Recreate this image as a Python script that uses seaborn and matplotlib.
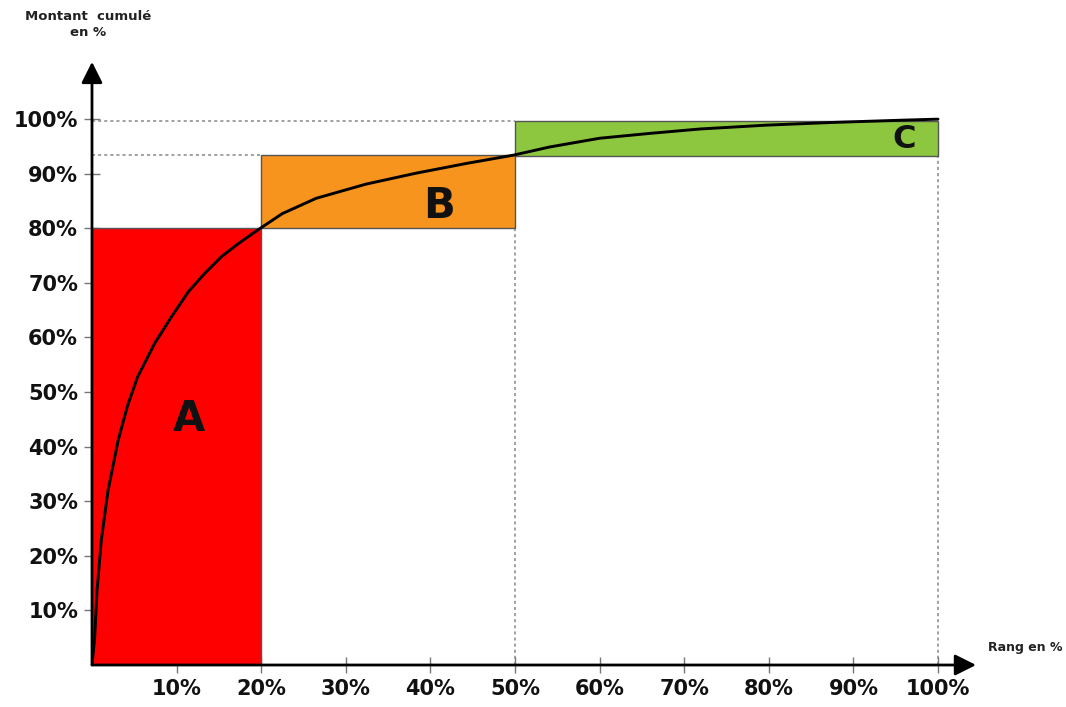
import numpy as np
import pandas as pd
import seaborn as sns
import matplotlib.pyplot as plt
from matplotlib.ticker import FuncFormatter

# zones ABC : rang (x) et montant cumule (y) en %
zones = ['A', 'B', 'C']
zone_start = [0, 20, 50]
zone_end = [20, 50, 100]
zone_low = [0, 80, 93.3]
zone_high = [80, 93.4, 99.7]
zone_colors = ['#ff0000', '#f7941d', '#8dc63f']

# courbe cumulée
rank_pct = [0, 0.3, 0.6, 1.1, 1.9, 3.1, 4.2, 5.4, 7.4, 9.4, 11.4, 13.3, 15.3,
            17.3, 19.6, 22.5, 26.5, 32.4, 38.3, 44.3, 49.8, 54.1, 60.0, 66.0,
            71.9, 79.7, 87.6, 95.5, 100]
cum_pct = [0, 4.6, 13.7, 22.9, 32.0, 41.2, 47.5, 52.8, 58.9, 63.8, 68.4, 71.7, 74.8,
           77.2, 79.7, 82.7, 85.5, 88.1, 90.1, 91.9, 93.4, 94.9, 96.5, 97.4,
           98.2, 98.9, 99.4, 99.8, 100]

ticks = [10, 20, 30, 40, 50, 60, 70, 80, 90, 100]

sns.set_style('white')
plt.rcParams['font.family'] = ['DejaVu Sans']

fig = plt.figure(figsize=(10.66, 7.07), dpi=100)
ax = fig.add_axes([0.0863, 0.0594, 0.8333, 0.857])

df = pd.DataFrame({'rang': rank_pct, 'cumul': cum_pct})

# rectangles des zones
for i in range(len(zones)):
    ax.bar(zone_start[i], zone_high[i] - zone_low[i], width=zone_end[i] - zone_start[i],
           bottom=zone_low[i], align='edge', color=zone_colors[i],
           edgecolor='#555555', linewidth=1, zorder=2)

# pointillés
dot = dict(color='#888888', lw=1.1, ls=(0, (2, 2)), zorder=1)
ax.plot([0, zone_start[2]], [zone_high[2], zone_high[2]], **dot)
ax.plot([0, zone_start[1]], [zone_high[1], zone_high[1]], **dot)
ax.plot([zone_end[1], zone_end[1]], [0, zone_low[1]], **dot)
ax.plot([zone_end[2], zone_end[2]], [0, zone_low[2]], **dot)

sns.lineplot(data=df, x='rang', y='cumul', color='black', lw=2.1, ax=ax, zorder=4,
             sort=False, estimator=None)

# lettres
ax.text(11.5, 45, 'A', fontsize=30, fontweight='bold', ha='center', va='center',
        color='#111111', zorder=5)
ax.text(41, 84, 'B', fontsize=30, fontweight='bold', ha='center', va='center',
        color='#111111', zorder=5)
ax.text(96, 96.3, 'C', fontsize=23, fontweight='bold', ha='center', va='center',
        color='#111111', zorder=5)

ax.set_xlim(0, 105)
ax.set_ylim(0, 111)
for s in ax.spines.values():
    s.set_visible(False)

# axes fléchés
arrow = dict(arrowstyle='-|>', mutation_scale=32, lw=2, color='black',
             shrinkA=0, shrinkB=0)
ax.annotate('', xy=(104.5, 0), xytext=(0, 0), arrowprops=arrow, annotation_clip=False, zorder=6)
ax.annotate('', xy=(0, 110.5), xytext=(0, 0), arrowprops=arrow, annotation_clip=False, zorder=6)

fmt = FuncFormatter(lambda v, p: f'{v:.0f}%')
ax.set_xticks(ticks)
ax.set_yticks(ticks)
ax.xaxis.set_major_formatter(fmt)
ax.yaxis.set_major_formatter(fmt)
ax.tick_params(axis='both', direction='inout', length=12, width=1, color='#777777',
               labelsize=15, pad=4, bottom=True, left=True)
for lab in ax.get_xticklabels() + ax.get_yticklabels():
    lab.set_fontweight('bold')
    lab.set_color('#111111')
ax.set_xlabel('')
ax.set_ylabel('')

fig.text(88 / 1066, 1 - 24 / 707, 'Montant  cumulé\nen %', fontsize=9.5, fontweight='bold',
         ha='center', va='center', color='#222222', linespacing=1.3)
fig.text(1025 / 1066, 1 - 648 / 707, 'Rang en %', fontsize=9, fontweight='bold',
         ha='center', va='center', color='#222222')

fig.savefig('out.png', dpi=100)
